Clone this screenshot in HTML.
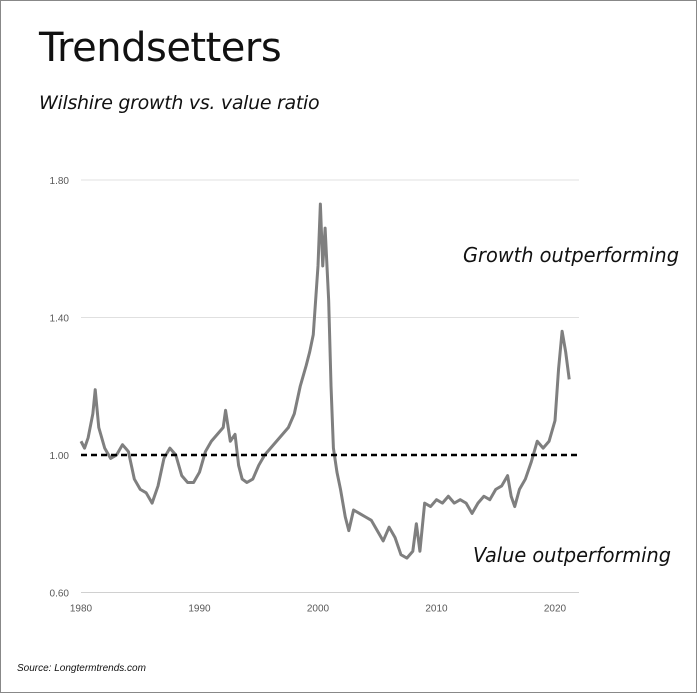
<!DOCTYPE html>
<html><head><meta charset="utf-8"><style>
html,body{margin:0;padding:0;background:#fff}
#wrap{position:relative;width:695px;height:691px;border:1px solid #888;background:#fff;overflow:hidden;font-family:"Liberation Sans",sans-serif}
#title{position:absolute;left:38px;top:24px;font-family:"DejaVu Sans",sans-serif;font-size:40px;color:#111;letter-spacing:-0.5px;font-weight:normal}
#sub{position:absolute;left:38px;top:91px;font-family:"DejaVu Sans",sans-serif;font-size:19px;color:#111;font-style:italic;letter-spacing:-0.3px}
#src{position:absolute;left:16px;top:662px;font-size:10px;font-style:italic;color:#111}
svg{position:absolute;left:0;top:0}
</style></head><body>
<div id="wrap">
<div id="title">Trendsetters</div>
<div id="sub">Wilshire growth vs. value ratio</div>
<div id="src">Source: Longtermtrends.com</div>
<svg id="chart" width="697" height="693"></svg>
</div>
<script>
const years=[1980,1980.3,1980.6,1981,1981.2,1981.5,1982,1982.5,1983,1983.5,1984,1984.5,1985,1985.5,1986,1986.5,1987,1987.5,1988,1988.5,1989,1989.5,1990,1990.5,1991,1991.5,1992,1992.2,1992.6,1993,1993.3,1993.6,1994,1994.5,1995,1995.5,1996,1996.5,1997,1997.5,1998,1998.5,1999,1999.3,1999.6,2000,2000.2,2000.4,2000.6,2000.9,2001.1,2001.3,2001.6,2001.9,2002.3,2002.6,2003,2003.5,2004,2004.5,2005,2005.5,2006,2006.5,2007,2007.5,2008,2008.3,2008.6,2009,2009.5,2010,2010.5,2011,2011.5,2012,2012.5,2013,2013.5,2014,2014.5,2015,2015.5,2016,2016.3,2016.6,2017,2017.5,2018,2018.5,2019,2019.5,2020,2020.3,2020.6,2020.9,2021.2];
const ratios=[1.04,1.02,1.05,1.12,1.19,1.08,1.02,0.99,1.00,1.03,1.01,0.93,0.90,0.89,0.86,0.91,0.99,1.02,1.00,0.94,0.92,0.92,0.95,1.01,1.04,1.06,1.08,1.13,1.04,1.06,0.97,0.93,0.92,0.93,0.97,1.00,1.02,1.04,1.06,1.08,1.12,1.20,1.26,1.30,1.35,1.55,1.73,1.55,1.66,1.45,1.20,1.02,0.95,0.90,0.82,0.78,0.84,0.83,0.82,0.81,0.78,0.75,0.79,0.76,0.71,0.70,0.72,0.80,0.72,0.86,0.85,0.87,0.86,0.88,0.86,0.87,0.86,0.83,0.86,0.88,0.87,0.90,0.91,0.94,0.88,0.85,0.90,0.93,0.98,1.04,1.02,1.04,1.10,1.25,1.36,1.30,1.22];
const yTicks=[0.60,1.00,1.40,1.80];
const xTicks=[1980,1990,2000,2010,2020];
const refValue=1.00;
const svg=document.getElementById('chart');const NS='http://www.w3.org/2000/svg';
const X=y=>80+(y-1980)*11.85;
const Y=v=>454-(v-1)*343.75;
function mk(t,a){const e=document.createElementNS(NS,t);for(const k in a)e.setAttribute(k,a[k]);svg.appendChild(e);return e;}
yTicks.forEach(v=>{
 if(v!==refValue){const g=mk('line',{x1:80,x2:578,y1:Y(v),y2:Y(v),stroke:'#e0e0e0','stroke-width':1});
 
 }
 const t=mk('text',{x:68,y:Y(v)+4,'text-anchor':'end','font-size':10,fill:'#595959','font-family':'Liberation Sans, sans-serif'});
 t.textContent=v.toFixed(2);
 
 
});
const ax=mk('line',{x1:80,x2:578,y1:Y(0.6),y2:Y(0.6),stroke:'#d0d0d0','stroke-width':1});


xTicks.forEach(y=>{
 const t=mk('text',{x:X(y),y:Y(0.6)+19,'text-anchor':'middle','font-size':10,fill:'#595959','font-family':'Liberation Sans, sans-serif'});
 t.textContent=y;
 
 
});
const p=mk('polyline',{points:years.map((y,i)=>X(y)+','+Y(ratios[i])).join(' '),fill:'none',stroke:'#7f7f7f','stroke-width':3,'stroke-linejoin':'round'});


const r=mk('line',{x1:80,x2:578,y1:Y(refValue),y2:Y(refValue),stroke:'#000','stroke-width':2.5,'stroke-dasharray':'6,4'});


[['Growth outperforming',462,261,216,'growth-annotation'],['Value outperforming',472,561,198,'value-annotation']].forEach(a=>{
 const t=mk('text',{x:a[1],y:a[2],'font-size':20,'font-style':'italic',fill:'#111','font-family':'DejaVu Sans, sans-serif',textLength:a[3],lengthAdjust:'spacingAndGlyphs'});
 t.textContent=a[0];
 
 
});
</script>
</body></html>
